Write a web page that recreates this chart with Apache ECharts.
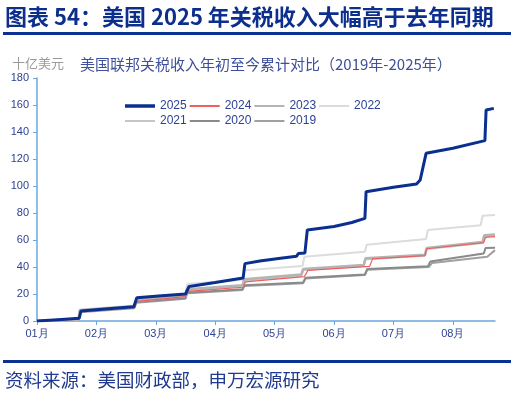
<!DOCTYPE html>
<html>
<head>
<meta charset="utf-8">
<script src="https://cdn.jsdelivr.net/npm/echarts@6/dist/echarts.min.js"></script>
<style>
  html, body { margin: 0; padding: 0; background: #fff; }
  #chart { width: 519px; height: 399px; }
</style>
</head>
<body>
<div id="chart"></div>
<script>
// x = months since Jan 1 (fractional), y = cumulative tariff revenue, bn USD
const monthLabels = ['01月', '02月', '03月', '04月', '05月', '06月', '07月', '08月']
const years = ['2025', '2024', '2023', '2022', '2021', '2020', '2019']

const s2025 = [[0,0],[0.35,1],[0.71,2],[0.74,7.4],[1.2,9],[1.63,10.5],[1.68,17.3],[2.1,18.7],[2.5,20],[2.56,25.6],[3.0,28.5],[3.47,31.8],[3.5,42.5],[3.75,44.5],[4.1,46.5],[4.37,48],[4.4,50],[4.51,50.3],[4.55,67.4],[5.0,70],[5.3,73],[5.52,76],[5.54,95.8],[6.0,99],[6.39,101.5],[6.45,104.4],[6.55,124.2],[7.0,128],[7.54,133.6],[7.56,156.3],[7.69,157.5]]
const s2024 = [[0,0],[0.7,1.3],[0.73,7.5],[1.65,10.5],[1.68,14.5],[2.5,18],[2.54,22],[3.47,25],[3.51,29],[4.5,32.8],[4.56,37.5],[5.6,40.5],[5.65,46],[6.53,48.4],[6.56,53.5],[7.52,58],[7.55,62],[7.71,62.5]]
const s2023 = [[0,0],[0.7,1.5],[0.72,8],[1.64,11],[1.67,15.5],[2.5,19],[2.53,23.5],[3.46,26.5],[3.49,31],[4.45,34.5],[4.48,38.5],[5.5,41.5],[5.53,46.5],[6.53,49],[6.56,54],[7.5,58.5],[7.53,63.5],[7.71,64]]
const s2022 = [[0,0],[0.7,1.8],[0.72,8.5],[1.64,11.5],[1.67,16.5],[2.5,20],[2.53,27.5],[3.46,30.5],[3.49,37.5],[4.47,40.7],[4.5,47.6],[5.52,51.3],[5.55,56.5],[6.55,60.8],[6.58,67.4],[7.47,71],[7.5,78],[7.71,78.5]]
const s2021 = [[0,0],[0.7,1.2],[0.72,7.5],[1.64,10.5],[1.67,15],[2.5,18.5],[2.53,23],[3.46,26],[3.49,30],[4.45,33.5],[4.48,38],[5.5,41],[5.53,46],[6.53,48.5],[6.56,53.5],[7.5,58],[7.53,63],[7.71,63.5]]
const s2020 = [[0,0],[0.7,1],[0.72,7],[1.64,10],[1.67,14],[2.5,17],[2.53,21],[3.46,23.5],[3.49,26.5],[4.48,28.5],[4.52,32],[5.52,34.5],[5.56,38.5],[6.58,40.5],[6.62,44],[7.52,50],[7.55,54],[7.71,54.3]]
const s2019 = [[0,0],[0.7,0.8],[0.72,6.5],[1.64,9.5],[1.67,13.5],[2.5,16.5],[2.53,20.5],[3.46,23],[3.49,26],[4.48,28],[4.52,31.5],[5.52,34],[5.56,38],[6.6,40],[6.65,43],[7.58,47.6],[7.71,52.5]]

const blue = '#0c2e8c'
const axisBlue = '#6aa6e0'
const labelBlue = '#2d4294'

// [data, colour, width, z]
const lineDefs = {
  '2019': [s2019, '#a0a0a0', 2, 2],
  '2020': [s2020, '#8a8a8a', 2, 2],
  '2021': [s2021, '#c6c6c6', 2.5, 3],
  '2022': [s2022, '#dcdcdc', 2, 3],
  '2023': [s2023, '#b4b4b4', 2.5, 4],
  '2024': [s2024, '#ee5f5f', 1.2, 5],
  '2025': [s2025, '#0a2f8f', 3, 6]
}

const chart = echarts.init(document.getElementById('chart'))

const series = ['2019', '2020', '2021', '2022', '2023', '2024', '2025'].map(y => {
  const [data, color, width, z] = lineDefs[y]
  return {
    name: y,
    type: 'line',
    data: data,
    symbol: 'none',
    z: z,
    itemStyle: { color: color },
    lineStyle: { color: color, width: width }
  }
})

// flat bar icons in the legend instead of line+circle
const legendData = years.map(y => ({
  name: y,
  icon: y === '2025' ? 'path://M0,0H30V3.5H0Z' : 'path://M0,0H30V2H0Z'
}))

const option = {
  animation: false,
  backgroundColor: '#fff',
  grid: { left: 37, right: 24, top: 78, bottom: 78, outerBoundsMode: 'none' },
  legend: {
    data: legendData,
    left: 120,
    top: 95,
    width: 275,
    itemWidth: 30,
    itemHeight: 11,
    itemGap: 3,
    textStyle: { color: labelBlue, fontSize: 12, fontFamily: 'Liberation Sans, Arial, sans-serif' }
  },
  xAxis: {
    type: 'value',
    min: 0,
    max: 7.71,
    interval: 1,
    splitLine: { show: false },
    axisLine: { lineStyle: { color: axisBlue, width: 1.5 } },
    axisTick: { show: true, length: 4, lineStyle: { color: axisBlue }, customValues: [0, 1, 2, 3, 4, 5, 6, 7] },
    axisLabel: {
      color: labelBlue,
      fontSize: 11,
      margin: 7,
      fontFamily: 'Liberation Sans, Arial, sans-serif',
      customValues: [0, 1, 2, 3, 4, 5, 6, 7],
      formatter: v => monthLabels[Math.round(v)] || ''
    }
  },
  yAxis: {
    type: 'value',
    min: 0,
    max: 180,
    interval: 20,
    splitLine: { show: false },
    axisLine: { show: true, lineStyle: { color: axisBlue, width: 1.5 } },
    axisTick: { show: true, length: 4, lineStyle: { color: axisBlue } },
    axisLabel: { color: labelBlue, fontSize: 11, margin: 8, fontFamily: 'Liberation Sans, Arial, sans-serif' }
  },
  graphic: [
    {
      type: 'text', left: 5, top: 6,
      style: { text: '图表 54：美国 2025 年关税收入大幅高于去年同期', fill: blue, font: 'bold 22px "Noto Sans CJK SC", sans-serif' }
    },
    { type: 'rect', shape: { x: 3, y: 32, width: 508, height: 3 }, style: { fill: '#0a3193' } },
    {
      type: 'text', left: 12, top: 57,
      style: { text: '十亿美元', fill: '#9a9a9a', font: '13px "Noto Sans CJK SC", sans-serif' }
    },
    {
      type: 'text', left: 80, top: 57,
      style: { text: '美国联邦关税收入年初至今累计对比（2019年-2025年）', fill: '#3e4f9c', font: '15px "Noto Sans CJK SC", sans-serif' }
    },
    { type: 'rect', shape: { x: 3, y: 360, width: 508, height: 3 }, style: { fill: '#0a3193' } },
    {
      type: 'text', left: 5, top: 371,
      style: { text: '资料来源：美国财政部，申万宏源研究', fill: '#1f3a8f', font: '18.5px "Noto Sans CJK SC", sans-serif' }
    }
  ],
  series: series
}

chart.setOption(option)
</script>
</body>
</html>
